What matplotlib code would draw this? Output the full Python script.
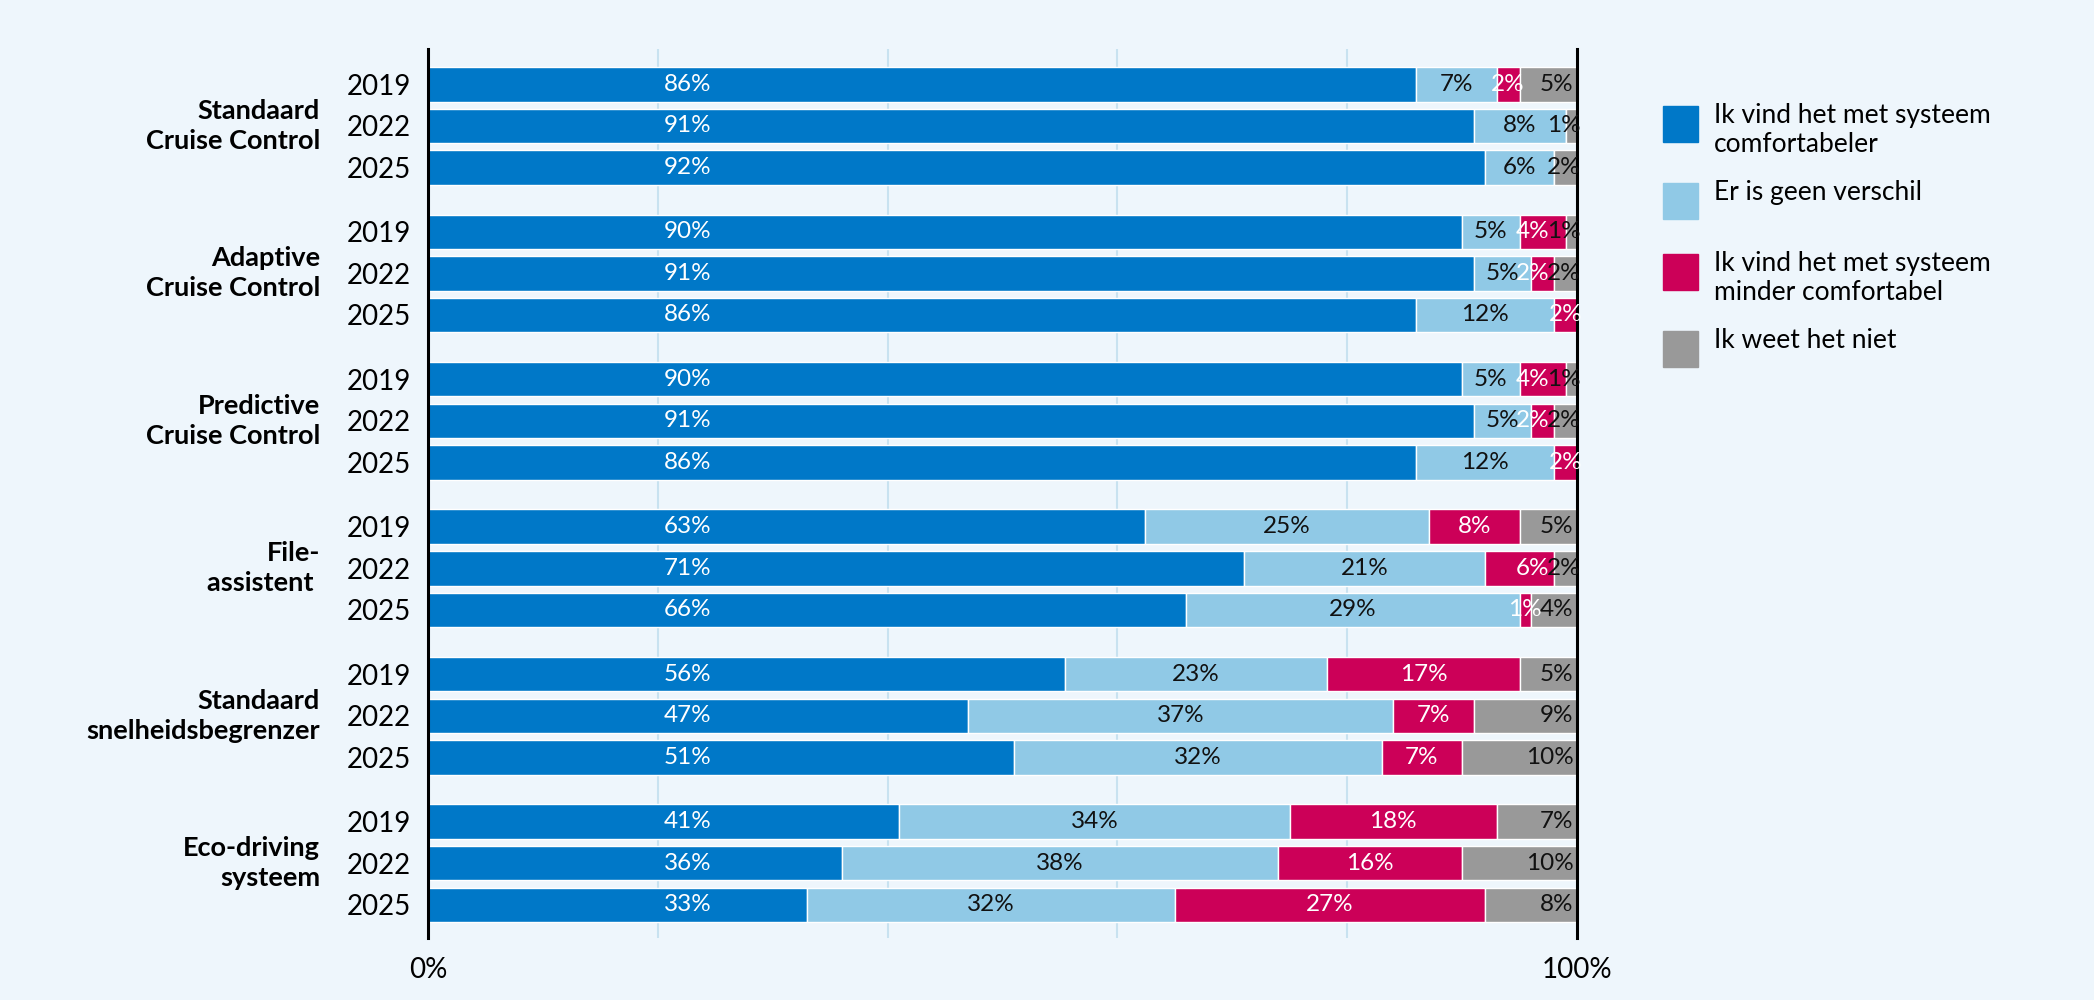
import numpy as np
import matplotlib
matplotlib.use('Agg')
import matplotlib.pyplot as plt
from matplotlib.patches import Rectangle

plt.rcParams['font.family'] = ['Lato', 'DejaVu Sans']

groups = ['Standaard\nCruise Control', 'Adaptive\nCruise Control', 'Predictive\nCruise Control',
          'File-\nassistent ', 'Standaard\nsnelheidsbegrenzer', 'Eco-driving\nsysteem']
years = ['2019', '2022', '2025']

series = ['Ik vind het met systeem\ncomfortabeler', 'Er is geen verschil',
          'Ik vind het met systeem\nminder comfortabel', 'Ik weet het niet']
colors = ['#0078C8', '#90C9E6', '#CC0058', '#999999']
text_colors = ['white', '#111111', 'white', '#111111']

# per group: rows 2019, 2022, 2025
comfortabeler = [[86, 91, 92], [90, 91, 86], [90, 91, 86], [63, 71, 66], [56, 47, 51], [41, 36, 33]]
geen_verschil = [[7, 8, 6], [5, 5, 12], [5, 5, 12], [25, 21, 29], [23, 37, 32], [34, 38, 32]]
minder = [[2, 0, 0], [4, 2, 2], [4, 2, 2], [8, 6, 1], [17, 7, 7], [18, 16, 27]]
weet_niet = [[5, 1, 2], [1, 2, 0], [1, 2, 0], [5, 2, 4], [5, 9, 10], [7, 10, 8]]

data = np.array([comfortabeler, geen_verschil, minder, weet_niet], dtype=float)

fig = plt.figure(figsize=(20.94, 10), dpi=100)
fig.patch.set_facecolor('#EEF6FC')
ax = fig.add_axes([428 / 2094, 62 / 1000, 1149 / 2094, 889 / 1000])
ax.set_facecolor('#EEF6FC')

gp = 3.55
bh = 0.83
ypos = []
for g in range(len(groups)):
    for b in range(len(years)):
        ypos.append(g * gp + b)
ypos = np.array(ypos)

vals = data.reshape(4, -1)
totals = vals.sum(axis=0)
widths = vals / totals * 100
left = np.zeros(len(ypos))
for s in range(4):
    ax.barh(ypos, widths[s], left=left, height=bh, color=colors[s],
            edgecolor='white', linewidth=1.0, zorder=2)
    for i, y in enumerate(ypos):
        v = vals[s, i]
        if v <= 0:
            continue
        if s == 0:
            x, ha = 22.6, 'center'
        elif s == 3:
            x, ha = (100.3 if v <= 2 else 99.7), 'right'
        elif s == 2 and 0 < vals[3, i] <= 2:
            # schuif label naar links zodat het niet over het grijze label valt
            x, ha = 97.6, 'right'
        else:
            x, ha = left[i] + widths[s, i] / 2, 'center'
        ax.text(x, y, f'{int(v)}%', ha=ha, va='center', fontsize=17.5,
                color=text_colors[s], zorder=3)
    left = left + widths[s]

ax.set_xlim(0, 100)
ax.set_ylim(ypos[-1] + 0.8, -0.85)
for gx in [20, 40, 60, 80]:
    ax.axvline(gx, color='#C8E2F0', linewidth=1.5, zorder=1)

ax.set_yticks(ypos)
ax.set_yticklabels(years * len(groups), fontsize=20)
ax.set_xticks([0, 100])
ax.set_xticklabels(['0%', '100%'], fontsize=20)
ax.tick_params(axis='both', length=0, pad=12)
ax.tick_params(axis='x', pad=14)

for sp in ['top', 'bottom']:
    ax.spines[sp].set_visible(False)
for sp in ['left', 'right']:
    ax.spines[sp].set_linewidth(2.2)
    ax.spines[sp].set_color('black')

for g, name in enumerate(groups):
    ax.text(-0.094, g * gp + 1, name, transform=ax.get_yaxis_transform(),
            ha='right', va='center', fontsize=19.5, fontweight='bold', linespacing=1.3)

# legend
leg_y = [106, 183, 254, 331]
for s in range(4):
    fig.patches.append(Rectangle((1663 / 2094, 1 - (leg_y[s] + 36) / 1000), 35 / 2094, 36 / 1000,
                                 transform=fig.transFigure, color=colors[s]))
    fig.text(1714 / 2094, 1 - (leg_y[s] - 3) / 1000, series[s], ha='left', va='top',
             fontsize=19, linespacing=1.2)

fig.savefig('out.png', dpi=100, facecolor=fig.get_facecolor())
